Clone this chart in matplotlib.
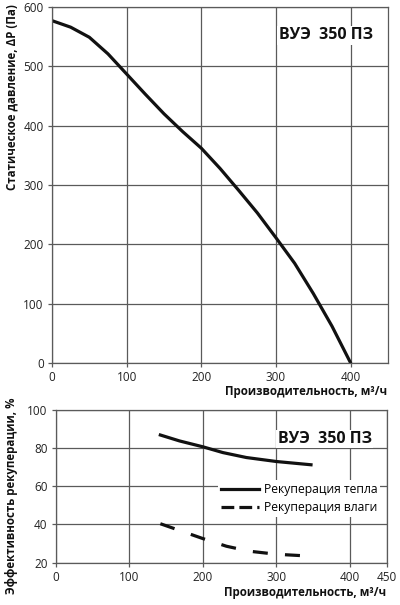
import matplotlib
matplotlib.use("Agg")
import matplotlib.pyplot as plt
from matplotlib.lines import Line2D

plt.rcParams['font.family'] = ['Open Sans', 'DejaVu Sans']

# Pressure curve
flow_p = [0, 25, 50, 75, 100, 125, 150, 175, 200, 225, 250, 275, 300,
          325, 350, 375, 400]
pressure = [577, 566, 549, 521, 487, 453, 420, 390, 362, 328, 291, 253,
            211, 168, 117, 62, 0]

# Recuperation efficiency
flow_h = [142, 168, 200, 227, 259, 300, 347]
heat = [86.9, 83.8, 80.7, 77.7, 75.1, 73.0, 71.3]
flow_m = [142, 200, 232, 263, 300, 347]
moist = [40.4, 32.6, 28.6, 26.0, 24.4, 23.4]

model = "ВУЭ  350 ПЗ"
xlabel = "Производительность, м³/ч"
ylabel_top = "Статическое давление, ΔР (Па)"
ylabel_bot = "Эффективность рекуперации, %"
leg_heat = "Рекуперация тепла"
leg_moist = "Рекуперация влаги"

top_xticks = [0, 100, 200, 300, 400]
top_yticks = [0, 100, 200, 300, 400, 500, 600]
bot_xticks = [0, 100, 200, 300, 400, 450]
bot_yticks = [20, 40, 60, 80, 100]

gc = '#5a5a5a'
lc = '#111111'
fig = plt.figure(figsize=(4.0, 6.05), dpi=100)

def style(ax):
    for s in ax.spines.values():
        s.set_color(gc)
        s.set_linewidth(0.9)
    ax.grid(True, color=gc, linewidth=0.9)
    ax.set_axisbelow(True)
    ax.tick_params(direction='out', length=3, width=0.9, color=gc,
                   labelsize=8.5, labelcolor='#222222', pad=3)

# Top chart
ax1 = fig.add_axes([0.13, 0.4, 0.84, 0.5884])
ax1.plot(flow_p, pressure, color=lc, linewidth=2.3, solid_capstyle='round',
         solid_joinstyle='round')
ax1.set_xlim(0, 450)
ax1.set_ylim(0, 600)
ax1.set_xticks(top_xticks)
ax1.set_yticks(top_yticks)
style(ax1)
ax1.text(0.955, 0.92, model, transform=ax1.transAxes, ha='right', va='center',
         fontsize=11.5, fontweight='bold', color=lc,
         bbox=dict(facecolor='white', edgecolor='none', pad=1))
fig.text(0.968, 0.353, xlabel, ha='right', va='center', fontsize=8.3,
         fontweight='bold', color=lc)
fig.text(0.03, 0.84, ylabel_top, rotation=90, ha='center', va='center',
         fontsize=8.3, fontweight='bold', color=lc)

# Bottom chart
ax2 = fig.add_axes([0.14, 0.07, 0.8267, 0.2523])
ax2.plot(flow_h, heat, color=lc, linewidth=2.3, solid_joinstyle='round')
ax2.plot(flow_m, moist, color=lc, linewidth=2.3, linestyle=(0, (4.7, 5.4)))
ax2.set_xlim(0, 450)
ax2.set_ylim(20, 100)
ax2.set_xticks(bot_xticks)
ax2.set_yticks(bot_yticks)
style(ax2)
ax2.text(0.955, 0.81, model, transform=ax2.transAxes, ha='right', va='center',
         fontsize=11.5, fontweight='bold', color=lc,
         bbox=dict(facecolor='white', edgecolor='none', pad=1))
handles = [Line2D([], [], color=lc, linewidth=2.3),
           Line2D([], [], color=lc, linewidth=2.3, linestyle=(0, (4, 1.6)))]
leg = ax2.legend(handles, [leg_heat, leg_moist], loc='center right',
                 bbox_to_anchor=(0.997, 0.42), frameon=True,
                 fontsize=8.7, handlelength=3.2, handletextpad=0.35,
                 borderpad=0.2, labelspacing=0.45, fancybox=False)
leg.get_frame().set_edgecolor('none')
leg.get_frame().set_facecolor('white')
leg.get_frame().set_alpha(1)
fig.text(0.966, 0.02, xlabel, ha='right', va='center', fontsize=8.3,
         fontweight='bold', color=lc)
fig.text(0.03, 0.18, ylabel_bot, rotation=90, ha='center', va='center',
         fontsize=8.3, fontweight='bold', color=lc)

fig.savefig('out.png', dpi=100)
